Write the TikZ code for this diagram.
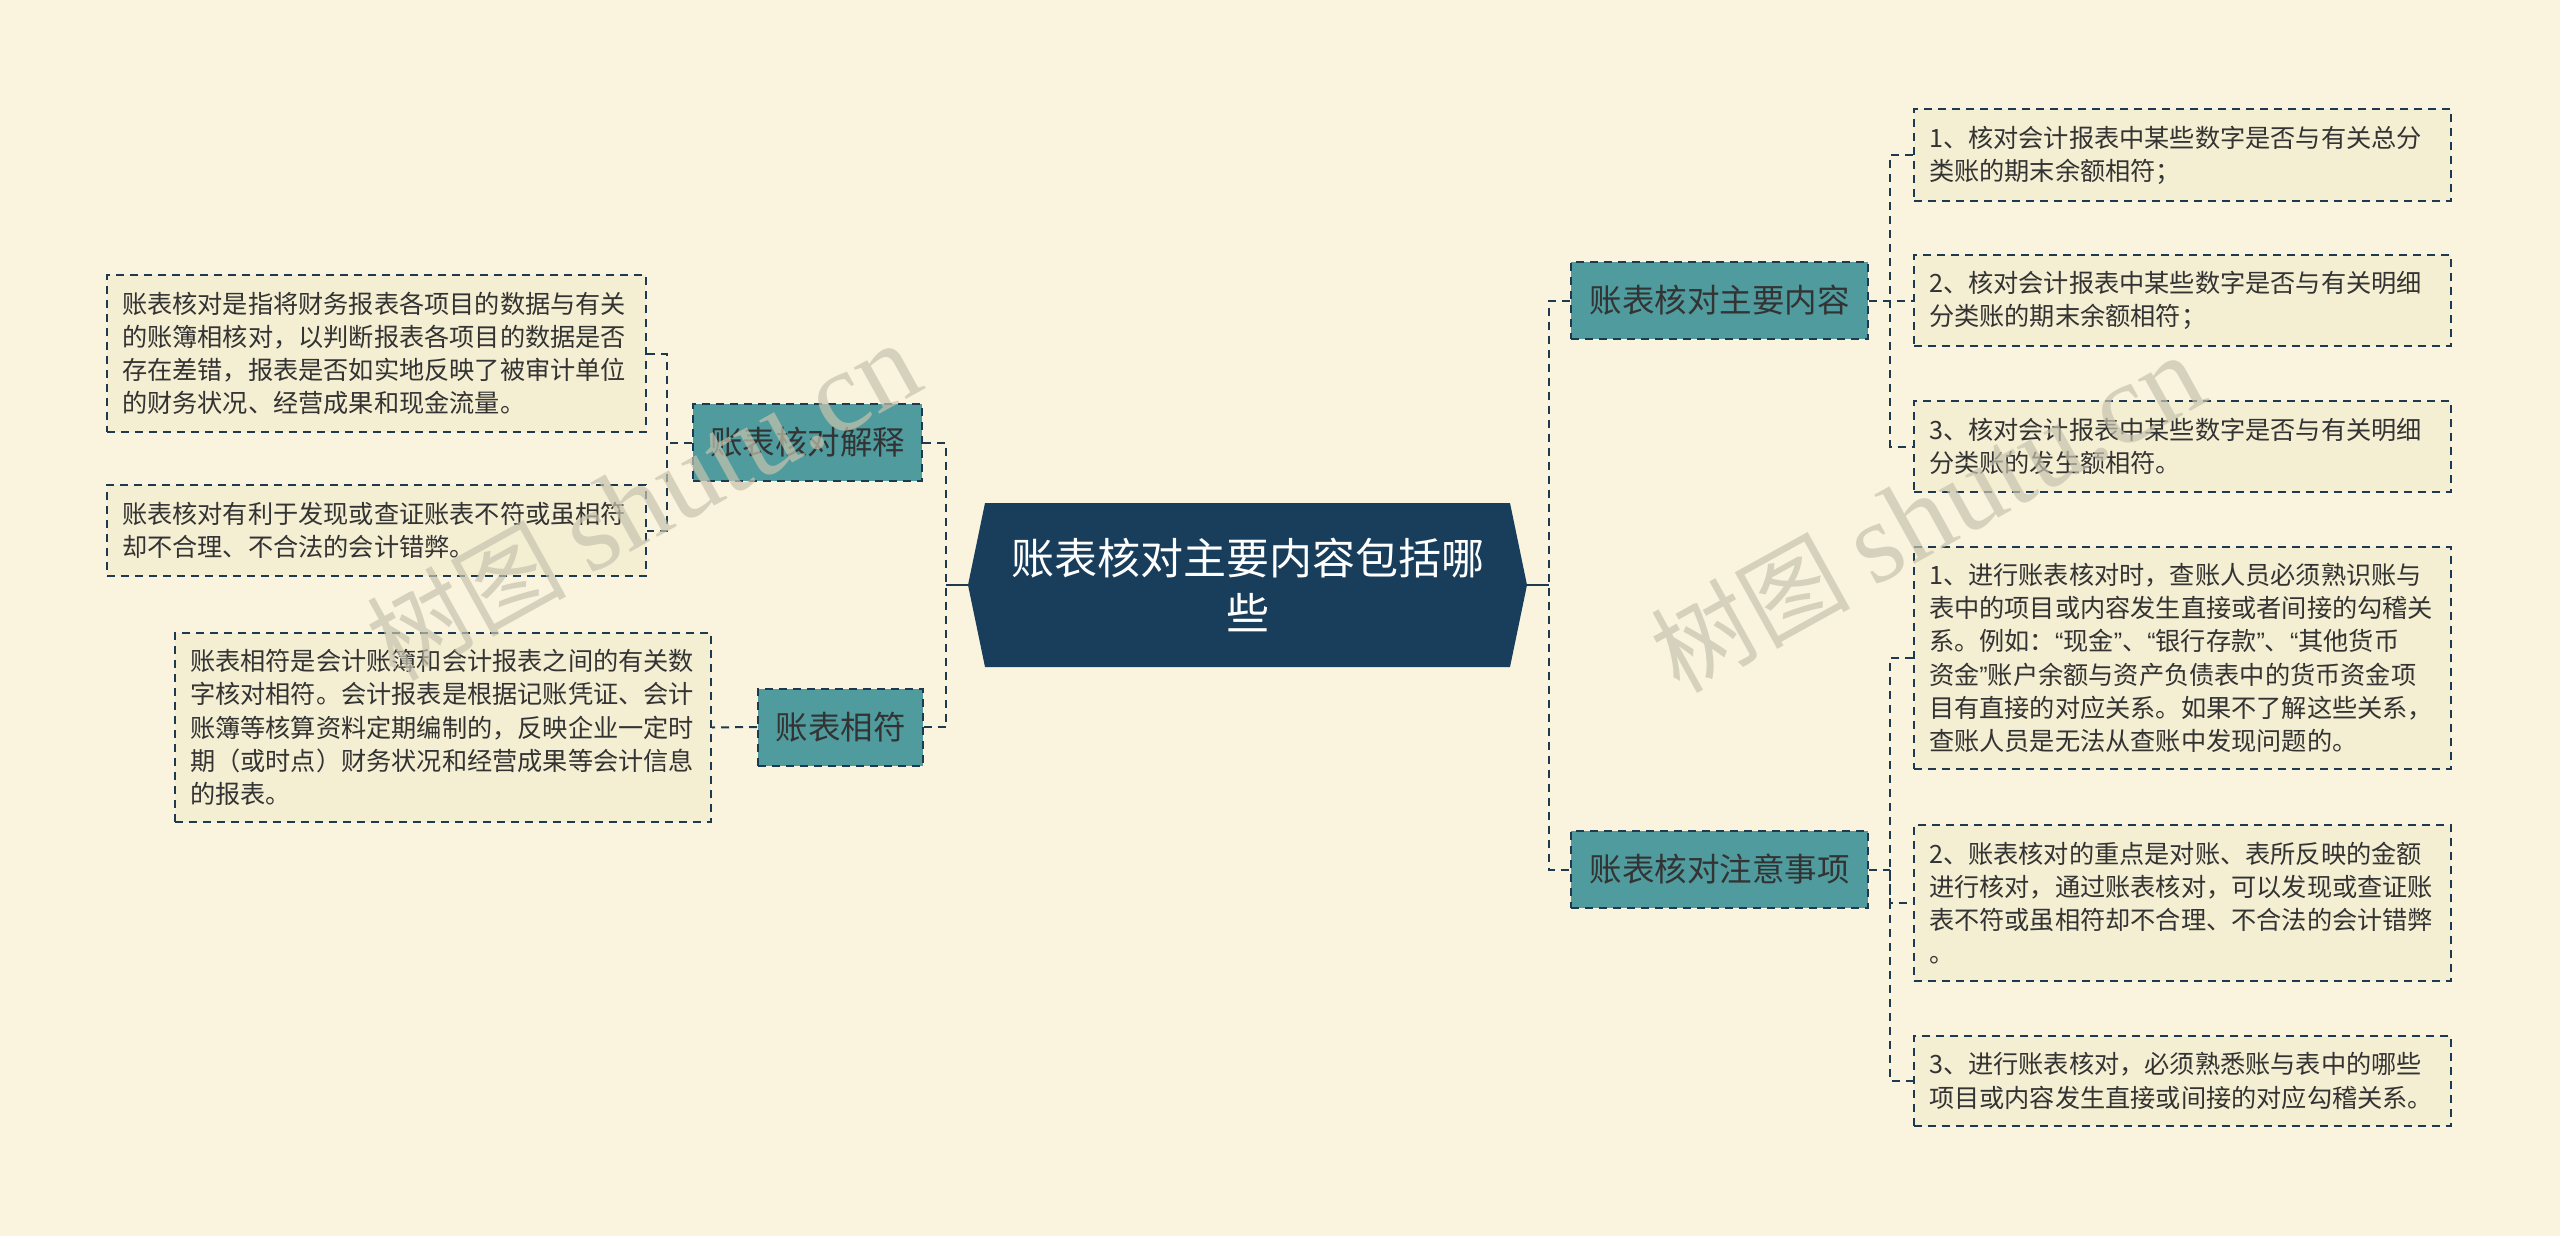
\documentclass[tikz,border=0pt]{standalone}
\usepackage{fontspec}
\newfontfamily\cjk{Noto Sans CJK SC}
\newfontfamily\lat{Liberation Sans}
\newfontfamily\wmserif{Liberation Serif}
\newcommand{\myLQ}{{\lat “}}
\newcommand{\myRQ}{{\lat ”}}
\definecolor{bgc}{HTML}{FAF4DE}
\definecolor{leaffill}{HTML}{F4EED2}
\definecolor{teal2}{HTML}{4F9B9D}
\definecolor{navy}{HTML}{183E5C}
\definecolor{bd}{HTML}{1E3A50}
\definecolor{txt}{HTML}{333333}
\definecolor{wm}{HTML}{C6C3AE}
\begin{document}
\begin{tikzpicture}[x=1pt,y=-1pt,
  dsh/.style={line width=2pt, dash pattern=on 8pt off 6pt},
  conn/.style={draw=bd, dsh},
  stub/.style={draw=bd, line width=2.5pt},
  leaf/.style={draw=bd, dsh, fill=leaffill, text=txt, font=\cjk\fontsize{25.2}{33.2}\selectfont, align=left, inner xsep=15pt, inner ysep=0pt, anchor=center},
  branch/.style={draw=bd, dsh, fill=teal2, text=txt, font=\cjk\fontsize{32.5}{38}\selectfont, inner sep=0pt, minimum height=77pt, anchor=center},
  root/.style={text=white, font=\cjk\fontsize{43}{55}\selectfont, align=center, inner sep=0pt, minimum width=525pt, minimum height=163pt},
  wmark/.style={text=wm, opacity=0.7, rotate=29, inner sep=0pt}
]
\fill[bgc] (0,0) rectangle (2560,1236);
\useasboundingbox (0,0) rectangle (2560,1236);

% central hexagon
\fill[navy] (985,503) -- (1510,503) -- (1527,585) -- (1510,667) -- (985,667) -- (968,585) -- cycle;
\node[root] (c) at (1247.5,585) {账表核对主要内容包括哪\\些};
\coordinate (cL) at (968,585);
\coordinate (cR) at (1527,585);

% branches
\node[branch, minimum width=229pt] (B1) at (807.5,442.5) {账表核对解释};
\node[branch, minimum width=165pt] (B2) at (840.5,727) {账表相符};
\node[branch, minimum width=297pt] (B3) at (1719.5,300.5) {账表核对主要内容};
\node[branch, minimum width=297pt] (B4) at (1719.5,869.5) {账表核对注意事项};

% left leaves
\node[leaf, text width=509pt, minimum height=157pt] (L1) at (376.5,353.5) {账表核对是指将财务报表各项目的数据与有关\\的账簿相核对，以判断报表各项目的数据是否\\存在差错，报表是否如实地反映了被审计单位\\的财务状况、经营成果和现金流量。};
\node[leaf, text width=509pt, minimum height=91pt] (L2) at (376.5,530.5) {账表核对有利于发现或查证账表不符或虽相符\\却不合理、不合法的会计错弊。};
\node[leaf, text width=506pt, minimum height=189pt] (L3) at (443,727.5) {账表相符是会计账簿和会计报表之间的有关数\\字核对相符。会计报表是根据记账凭证、会计\\账簿等核算资料定期编制的，反映企业一定时\\期（或时点）财务状况和经营成果等会计信息\\的报表。};

% right leaves
\node[leaf, text width=507pt, minimum height=92pt] (R1) at (2182.5,155) {1、核对会计报表中某些数字是否与有关总分\\类账的期末余额相符；};
\node[leaf, text width=507pt, minimum height=91pt] (R2) at (2182.5,300.5) {2、核对会计报表中某些数字是否与有关明细\\分类账的期末余额相符；};
\node[leaf, text width=507pt, minimum height=91pt] (R3) at (2182.5,446.5) {3、核对会计报表中某些数字是否与有关明细\\分类账的发生额相符。};
\node[leaf, text width=507pt, minimum height=222pt] (Q1) at (2182.5,658) {1、进行账表核对时，查账人员必须熟识账与\\表中的项目或内容发生直接或者间接的勾稽关\\系。例如：\myLQ 现金\myRQ 、\myLQ 银行存款\myRQ 、\myLQ 其他货币\\资金\myRQ 账户余额与资产负债表中的货币资金项\\目有直接的对应关系。如果不了解这些关系，\\查账人员是无法从查账中发现问题的。};
\node[leaf, text width=507pt, minimum height=156pt] (Q2) at (2182.5,903) {2、账表核对的重点是对账、表所反映的金额\\进行核对，通过账表核对，可以发现或查证账\\表不符或虽相符却不合理、不合法的会计错弊\\。};
\node[leaf, text width=507pt, minimum height=90pt] (Q3) at (2182.5,1081) {3、进行账表核对，必须熟悉账与表中的哪些\\项目或内容发生直接或间接的对应勾稽关系。};

% junctions
\coordinate (jl) at (946,585);
\coordinate (jr) at (1549,585);
\coordinate (j1) at (667,442.5);
\coordinate (j3) at (1890,300.5);
\coordinate (j4) at (1890,869.5);

% connectors
\draw[stub] (cL) -- (jl);
\draw[stub] (cR) -- (jr);
\draw[conn] (B1.east) -| (jl) |- (B2.east);
\draw[conn] (B3.west) -| (jr) |- (B4.west);
\draw[conn] (B1.west) -- (j1);
\draw[conn] (L1.east) -| (j1) |- (L2.east);
\draw[conn] (B2.west) -- (L3.east);
\draw[conn] (B3.east) -- (R2.west);
\draw[conn] (R1.west) -| (j3) |- (R3.west);
\draw[conn] (B4.east) -- (j4);
\draw[conn] (Q1.west) -| (j4) |- (Q3.west);
\draw[conn] (j4) |- (Q2.west);

% watermarks
\node[wmark] (w1) at (643,502) {\cjk\fontsize{100}{100}\selectfont 树图 \wmserif\fontsize{115}{115}\selectfont shutu.cn};
\node[wmark] (w2) at (1927,514) {\cjk\fontsize{100}{100}\selectfont 树图 \wmserif\fontsize{115}{115}\selectfont shutu.cn};
\end{tikzpicture}
\end{document}
